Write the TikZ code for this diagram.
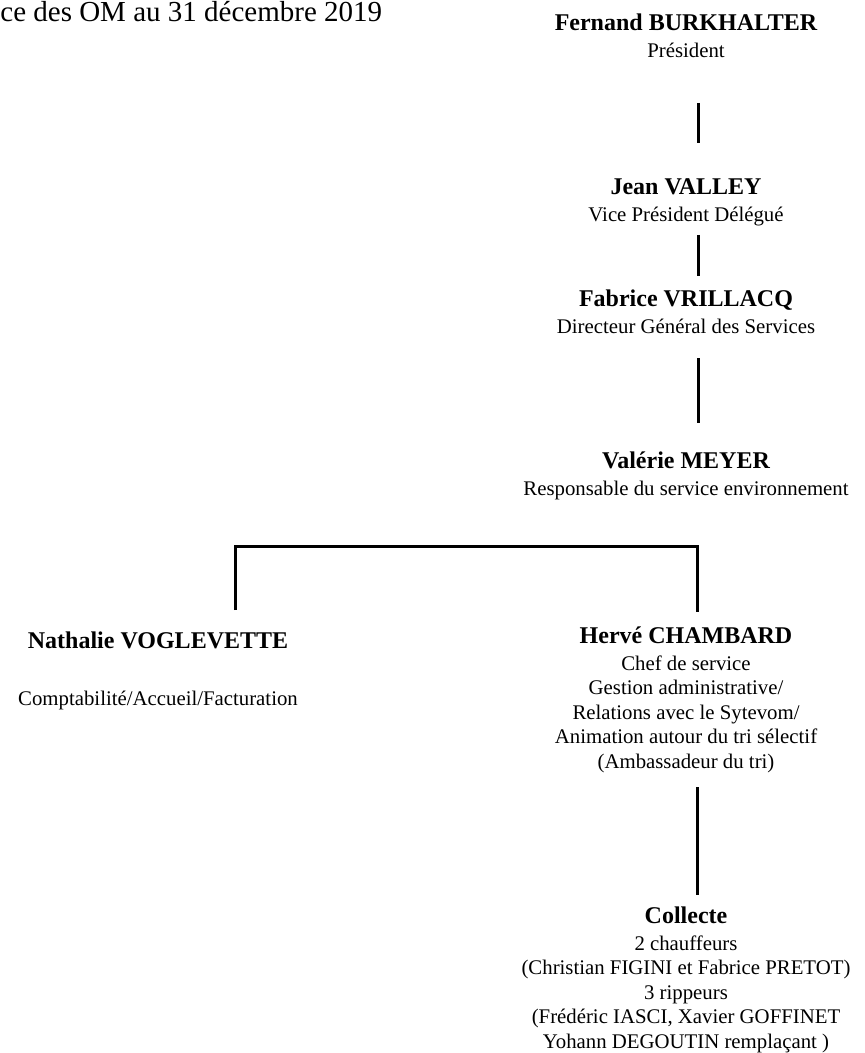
\documentclass[tikz,border=0pt]{standalone}
\usepackage{fontspec}
\setmainfont{Liberation Serif}
\usepackage{tikz}
\newcommand{\personne}[1]{{\fontsize{12}{14}\selectfont\bfseries #1}}

\begin{document}
\begin{tikzpicture}[x=0.5pt,y=-0.5pt,
  every node/.style={inner sep=0pt,align=center,
    font=\fontsize{10.4}{12.2}\selectfont},
  link/.style={line width=1.5pt}]
  \useasboundingbox (0,0) rectangle (865,1053);
  \node[anchor=base west,font=\fontsize{14.5}{17}\selectfont] (titre)
    at (0,22)
    {ce des OM au 31 décembre 2019};
  \node[anchor=base] (pres)
    at (686,58)
    {\personne{Fernand BURKHALTER}\\[1.3pt]
     Président};
  \node[anchor=base] (vicepres)
    at (686,222)
    {\personne{Jean VALLEY}\\[1.3pt]
     Vice Président Délégué};
  \node[anchor=base] (dgs)
    at (686,334)
    {\personne{Fabrice VRILLACQ}\\[1.3pt]
     Directeur Général des Services};
  \node[anchor=base] (respenv)
    at (686,495)
    {\personne{Valérie MEYER}\\[1.3pt]
     Responsable du service environnement};
  \node[anchor=base] (compta)
    at (158,705)
    {\personne{Nathalie VOGLEVETTE}\\[16pt]
     Comptabilité/Accueil/Facturation};
  \node[anchor=base] (chefserv)
    at (686,768)
    {\personne{Hervé CHAMBARD}\\[1.3pt]
     Chef de service\\
     Gestion administrative/\\
     Relations avec le Sytevom/\\
     Animation autour du tri sélectif\\
     (Ambassadeur du tri)};
  \node[anchor=base] (collecte)
    at (686,1048)
    {\personne{Collecte}\\[1.3pt]
     2 chauffeurs\\
     (Christian FIGINI et Fabrice PRETOT)\\
     3 rippeurs\\
     (Frédéric IASCI, Xavier GOFFINET\\
     Yohann DEGOUTIN remplaçant )};
  \coordinate (p1) at (698,103);
  \coordinate (v1) at (698,143);
  \coordinate (v2) at (698,235);
  \coordinate (d1) at (698,276);
  \coordinate (d2) at (698,358);
  \coordinate (r1) at (698,423);
  \coordinate (c1) at (235,610);
  \coordinate (h1) at (697,612);
  \coordinate (h2) at (697,787);
  \coordinate (k1) at (697,895);
  \draw[link]
    (p1)
    --
    (v1);
  \draw[link]
    (v2)
    --
    (d1);
  \draw[link]
    (d2)
    --
    (r1);
  \draw[link]
    (c1)
    |-
    (697,546)
    --
    (h1);
  \draw[link]
    (h2)
    --
    (k1);
\end{tikzpicture}
\end{document}
